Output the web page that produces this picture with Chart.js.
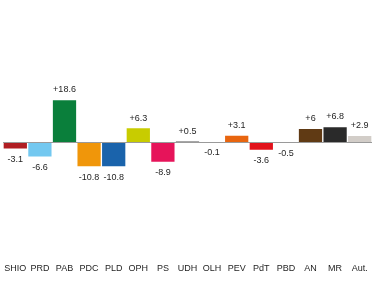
<!DOCTYPE html>
<html>
<head>
<meta charset="utf-8">
<script src="https://cdn.jsdelivr.net/npm/chart.js@4/dist/chart.umd.min.js"></script>
<style>
html,body{margin:0;padding:0;background:#fff;}
#wrap{width:375px;height:284px;position:relative;}
</style>
</head>
<body>
<div id="wrap"><canvas id="c"></canvas></div>
<script>
const categories = ["SHIO","PRD","PAB","PDC","PLD","OPH","PS","UDH","OLH","PEV","PdT","PBD","AN","MR","Aut."];
const changes = [-3.1,-6.6,18.6,-10.8,-10.8,6.3,-8.9,0.5,-0.1,3.1,-3.6,-0.5,6,6.8,2.9];
const barColors = ["#b01e23","#73c8f0","#0a7f3b","#f0960a","#1a63ab","#c8cc00","#e6145a","#8a8a8a","#8a8a8a","#e8650f","#e2121b","#8a8a8a","#603a14","#2a2a2a","#d2cdc8"];

const fontFam = "'Liberation Sans', Arial, Helvetica, sans-serif";

const valueLabels = {
  id: 'valueLabels',
  afterDatasetsDraw(chart) {
    const ctx = chart.ctx;
    const y = chart.scales.y;
    const zero = y.getPixelForValue(0);
    ctx.save();
    ctx.strokeStyle = '#9a9a9a';
    ctx.lineWidth = 1;
    ctx.beginPath();
    ctx.moveTo(chart.chartArea.left, Math.round(zero) + 0.5);
    ctx.lineTo(chart.chartArea.right, Math.round(zero) + 0.5);
    ctx.stroke();
    ctx.fillStyle = '#1e1e1e';
    ctx.font = '9px ' + fontFam;
    ctx.textAlign = 'center';
    ctx.textBaseline = 'middle';
    const meta = chart.getDatasetMeta(0);
    meta.data.forEach((bar, i) => {
      const v = changes[i];
      const txt = v > 0 ? '+' + v : String(v);
      const py = y.getPixelForValue(v);
      const ty = v > 0 ? py - 9.5 : py + 10.5;
      ctx.fillText(txt, bar.x, ty);
    });
    ctx.restore();
  }
};

new Chart(document.getElementById('c'), {
  type: 'bar',
  data: {
    labels: categories,
    datasets: [{
      data: changes,
      backgroundColor: barColors,
      borderColor: 'rgba(255,255,255,0.45)',
      borderWidth: 1,
      categoryPercentage: 1,
      barPercentage: 1
    }]
  },
  options: {
    responsive: true,
    maintainAspectRatio: false,
    animation: false,
    layout: { padding: { left: 3, right: 3, top: 0, bottom: 6 } },
    plugins: { legend: { display: false }, tooltip: { enabled: false } },
    scales: {
      x: {
        grid: { display: false, drawTicks: false },
        border: { display: false },
        ticks: { color: '#1e1e1e', font: { family: fontFam, size: 9 }, padding: 4, maxRotation: 0, autoSkip: false }
      },
      y: {
        display: false,
        min: -51.1,
        max: 62
      }
    }
  },
  plugins: [valueLabels]
});
</script>
</body>
</html>
